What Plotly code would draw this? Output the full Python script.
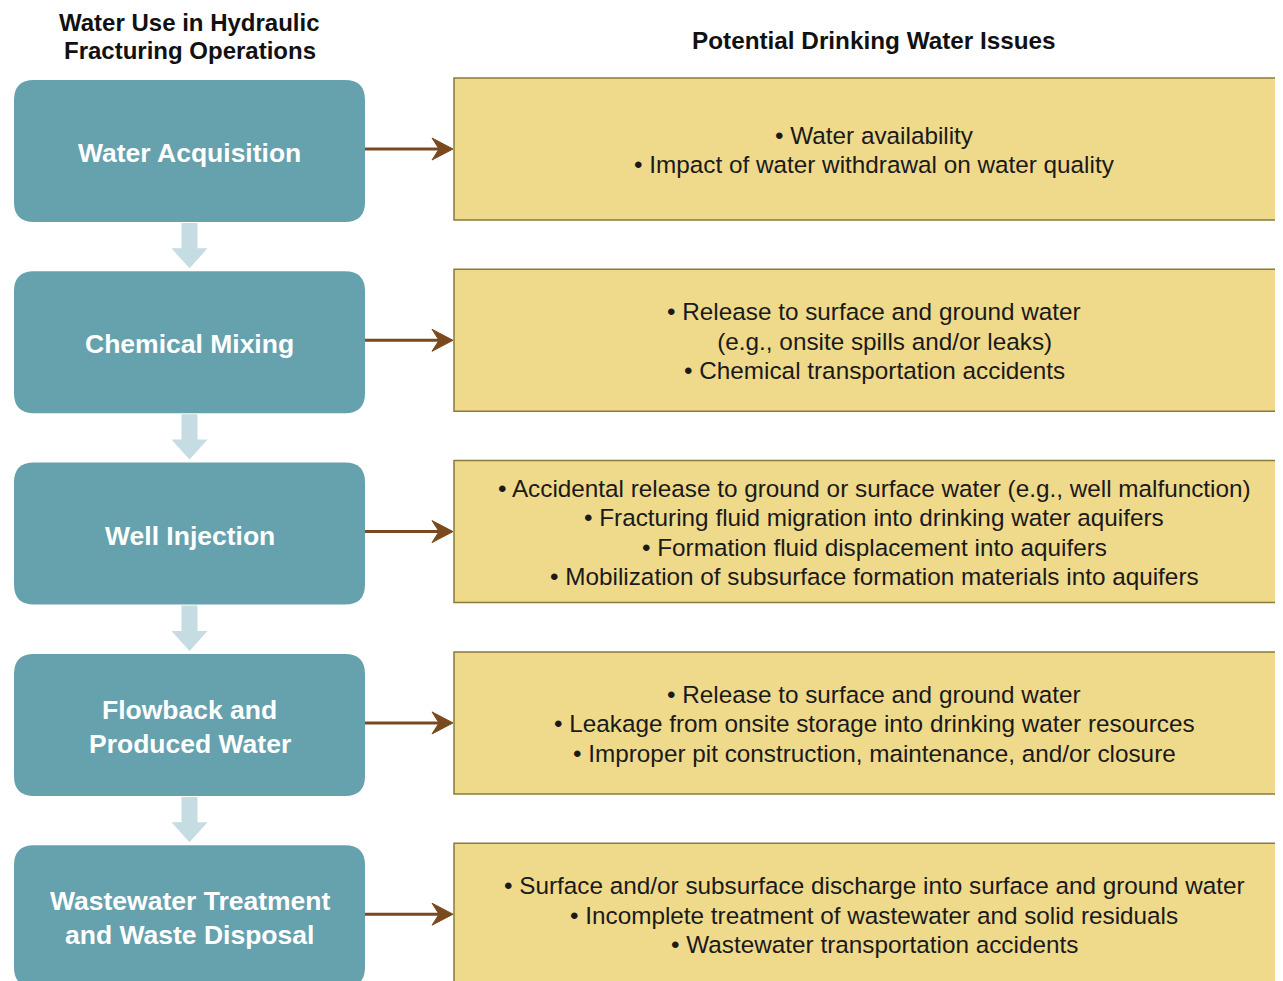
import plotly.graph_objects as go

# ---- content ----
left_header = ["Water Use in Hydraulic", "Fracturing Operations"]
right_header = "Potential Drinking Water Issues"
stages = [
    ["Water Acquisition"],
    ["Chemical Mixing"],
    ["Well Injection"],
    ["Flowback and", "Produced Water"],
    ["Wastewater Treatment", "and Waste Disposal"],
]
NB = "\u00a0"
issues = [
    ["• Water availability",
     "• Impact of water withdrawal on water quality"],
    ["• Release to surface and ground water",
     NB * 3 + "(e.g., onsite spills and/or leaks)",
     "• Chemical transportation accidents"],
    ["• Accidental release to ground or surface water (e.g., well malfunction)",
     "• Fracturing fluid migration into drinking water aquifers",
     "• Formation fluid displacement into aquifers",
     "• Mobilization of subsurface formation materials into aquifers"],
    ["• Release to surface and ground water",
     "• Leakage from onsite storage into drinking water resources",
     "• Improper pit construction, maintenance, and/or closure"],
    ["• Surface and/or subsurface discharge into surface and ground water",
     "• Incomplete treatment of wastewater and solid residuals",
     "• Wastewater transportation accidents"],
]

# ---- style / layout ----
W, H = 1283, 981
OFF = 8  # page body margin compensation
BLUE = "#66a1ae"
LIGHT = "#c4dce2"
YELLOW = "#efd98b"
YBORDER = "#8b7a3e"
BROWN = "#7a4a1e"
FONT = "Liberation Sans, Arial, sans-serif"

top0, step, bh = 80.0, 191.3, 142.0
bx0, bx1, r = 14.0, 365.0, 20.0
yx0, yx1 = 454.0, 1300.0
cx_blue = (bx0 + bx1) / 2
cx_text = 874.0
line_sp = 29.5
blue_sp = 33.5

shapes = []
annotations = []

def rrect(x0, y0, x1, y1, rad):
    return (f"M {x0+rad},{y0} L {x1-rad},{y0} Q {x1},{y0} {x1},{y0+rad} "
            f"L {x1},{y1-rad} Q {x1},{y1} {x1-rad},{y1} L {x0+rad},{y1} "
            f"Q {x0},{y1} {x0},{y1-rad} L {x0},{y0+rad} Q {x0},{y0} {x0+rad},{y0} Z")

for i, (stage, iss) in enumerate(zip(stages, issues)):
    t = top0 + i * step
    b = t + bh
    cy = t + bh / 2
    shapes.append(dict(type="path", path=rrect(bx0, t, bx1, b, r),
                       fillcolor=BLUE, line=dict(width=0), layer="below"))
    yt, yb = t - 2, b - 2
    ycy = (yt + yb) / 2
    shapes.append(dict(type="rect", x0=yx0, y0=yt, x1=yx1, y1=yb,
                       fillcolor=YELLOW, line=dict(color=YBORDER, width=1.5),
                       layer="below"))
    shapes.append(dict(type="line", x0=bx1, y0=ycy, x1=yx0 - 8, y1=ycy,
                       line=dict(color=BROWN, width=3)))
    shapes.append(dict(type="path",
                       path=f"M {yx0-1},{ycy} L {yx0-22},{ycy-11} L {yx0-15},{ycy} L {yx0-22},{ycy+11} Z",
                       fillcolor=BROWN, line=dict(color=BROWN, width=1)))
    if i < len(stages) - 1:
        a0 = b + 1
        a1 = top0 + (i + 1) * step - 3
        mid = a1 - 20
        shapes.append(dict(type="path",
                           path=(f"M {cx_blue-8},{a0} L {cx_blue+8},{a0} L {cx_blue+8},{mid} "
                                 f"L {cx_blue+18},{mid} L {cx_blue},{a1} L {cx_blue-18},{mid} "
                                 f"L {cx_blue-8},{mid} Z"),
                           fillcolor=LIGHT, line=dict(width=0), layer="below"))
    n = len(stage)
    for k, s in enumerate(stage):
        yy = cy + 2 + (k - (n - 1) / 2) * blue_sp
        annotations.append(dict(x=cx_blue, y=yy, text=f"<b>{s}</b>", showarrow=False,
                                xanchor="center", yanchor="middle",
                                font=dict(family=FONT, size=26.5, color="white")))
    m = len(iss)
    for k, s in enumerate(iss):
        yy = ycy + 1 + (k - (m - 1) / 2) * line_sp
        annotations.append(dict(x=cx_text, y=yy, text=s, showarrow=False,
                                xanchor="center", yanchor="middle",
                                font=dict(family=FONT, size=24.3, color="#1a1a1a")))

for k, s in enumerate(left_header):
    annotations.append(dict(x=cx_blue, y=22 + k * 28, text=f"<b>{s}</b>", showarrow=False,
                            xanchor="center", yanchor="middle",
                            font=dict(family=FONT, size=24, color="#111111")))
annotations.append(dict(x=cx_text, y=40, text=f"<b>{right_header}</b>", showarrow=False,
                        xanchor="center", yanchor="middle",
                        font=dict(family=FONT, size=24.3, color="#111111")))

fig = go.Figure()
fig.update_layout(
    width=W - OFF, height=H - OFF, margin=dict(l=0, r=0, t=0, b=0),
    paper_bgcolor="white", plot_bgcolor="white",
    xaxis=dict(range=[OFF, W], visible=False, fixedrange=True),
    yaxis=dict(range=[H, OFF], visible=False, fixedrange=True),
    shapes=shapes, annotations=annotations, showlegend=False,
)
fig.write_html("out.html", config={"displayModeBar": False})
